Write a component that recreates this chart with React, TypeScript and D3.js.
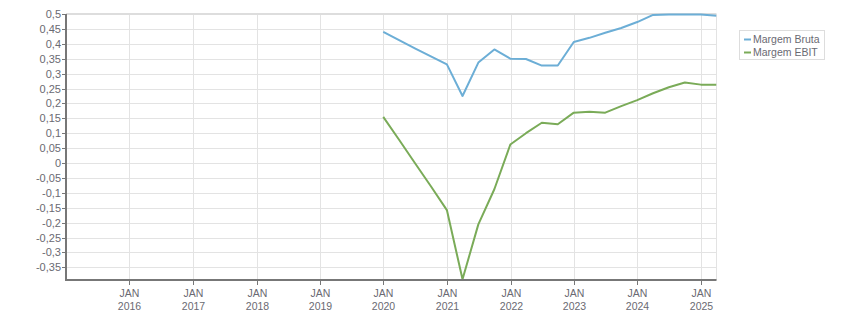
import React from "react";
import * as d3 from "d3";

const quarterDates: string[] = [
  "2019-12-31", "2020-03-31", "2020-06-30", "2020-09-30",
  "2020-12-31", "2021-03-31", "2021-06-30", "2021-09-30",
  "2021-12-31", "2022-03-31", "2022-06-30", "2022-09-30",
  "2022-12-31", "2023-03-31", "2023-06-30", "2023-09-30",
  "2023-12-31", "2024-03-31", "2024-06-30", "2024-09-30",
  "2024-12-31", "2025-03-31",
];

const margemBruta: number[] = [
  0.44, 0.412, 0.385, 0.358, 0.331, 0.225, 0.337, 0.381, 0.35, 0.349, 0.327,
  0.327, 0.406, 0.42, 0.437, 0.453, 0.473, 0.497, 0.498, 0.498, 0.498, 0.494,
];

const margemEbit: number[] = [
  0.155, 0.078, 0.0, -0.078, -0.158, -0.39, -0.206, -0.088, 0.062, 0.1, 0.135,
  0.13, 0.169, 0.172, 0.169, 0.191, 0.211, 0.234, 0.254, 0.27, 0.263, 0.263,
];

const seriesNames: string[] = ["Margem Bruta", "Margem EBIT"];
const seriesColors: string[] = ["#6caed6", "#7aab58"];

const yTicks: number[] = [
  0.5, 0.45, 0.4, 0.35, 0.3, 0.25, 0.2, 0.15, 0.1, 0.05, 0, -0.05, -0.1,
  -0.15, -0.2, -0.25, -0.3, -0.35,
];
const xTickYears: number[] = [2016, 2017, 2018, 2019, 2020, 2021, 2022, 2023, 2024, 2025];
const monthLabel = "JAN";

const W = 851;
const H = 313;
const left = 66;
const right = 716.5;
const top = 14;
const bottom = 280;

export default function App() {
  const parse = d3.utcParse("%Y-%m-%d");
  const dates = quarterDates.map((d) => parse(d) as Date);
  const x = d3
    .scaleUtc()
    .domain([new Date(Date.UTC(2015, 0, 1)), new Date(Date.UTC(2025, 2, 31))])
    .range([left, right]);
  const y = d3.scaleLinear().domain([-0.3926, 0.5]).range([bottom, top]);

  const fmt = (v: number) => {
    const s = d3.format("")(+v.toFixed(2));
    return s.replace(".", ",").replace("−", "-");
  };

  const line = d3
    .line<number>()
    .x((_, i) => x(dates[i]))
    .y((v) => y(v));

  const series = [margemBruta, margemEbit];
  const font = "'Liberation Sans', Arial, sans-serif";

  return (
    <svg
      width={W}
      height={H}
      style={{ position: "absolute", left: 0, top: 0, background: "#fff" }}
      fontFamily={font}
    >
      <defs>
        <clipPath id="plot">
          <rect x={left} y={top - 2} width={right - left} height={bottom - top + 2} />
        </clipPath>
      </defs>
      {yTicks.map((t) => (
        <line
          key={"h" + t}
          x1={left}
          x2={right}
          y1={Math.round(y(t)) + 0.5}
          y2={Math.round(y(t)) + 0.5}
          stroke="#e3e3e3"
          strokeWidth={1}
        />
      ))}
      {xTickYears.map((yr) => {
        const px = Math.round(x(new Date(Date.UTC(yr, 0, 1)))) + 0.5;
        return (
          <line key={"v" + yr} x1={px} x2={px} y1={top} y2={bottom} stroke="#e3e3e3" strokeWidth={1} />
        );
      })}
      <line x1={left} x2={right} y1={top} y2={top} stroke="#dddddd" strokeWidth={2} />
      <line x1={right} x2={right} y1={top} y2={bottom} stroke="#e3e3e3" strokeWidth={1} />

      <g clipPath="url(#plot)">
        {series.map((s, i) => (
          <path
            key={seriesNames[i]}
            d={line(s) || ""}
            fill="none"
            stroke={seriesColors[i]}
            strokeWidth={2}
            strokeLinejoin="round"
          />
        ))}
      </g>

      <line x1={left} x2={left} y1={top} y2={bottom + 1} stroke="#777" strokeWidth={2} />
      <line x1={left - 1} x2={right} y1={bottom} y2={bottom} stroke="#777" strokeWidth={2} />

      {yTicks.map((t) => {
        const py = Math.round(y(t)) + 0.5;
        return (
          <g key={"yl" + t}>
            <line x1={left - 4} x2={left} y1={py} y2={py} stroke="#777" strokeWidth={1} />
            <text
              x={left - 5}
              y={py}
              dy="0.35em"
              textAnchor="end"
              fontSize={11}
              fill="#6a6a72"
            >
              {fmt(t)}
            </text>
          </g>
        );
      })}

      {xTickYears.map((yr) => {
        const px = Math.round(x(new Date(Date.UTC(yr, 0, 1)))) + 0.5;
        return (
          <g key={"xl" + yr}>
            <line x1={px} x2={px} y1={bottom} y2={bottom + 5} stroke="#777" strokeWidth={1} />
            <text x={px} y={297} textAnchor="middle" fontSize={10.5} fill="#6a6a72">
              {monthLabel}
            </text>
            <text x={px} y={310} textAnchor="middle" fontSize={10.5} fill="#6a6a72">
              {yr}
            </text>
          </g>
        );
      })}

      <rect x={739.5} y={30.5} width={85} height={29} fill="#fff" stroke="#dddddd" strokeWidth={1} />
      {seriesNames.map((n, i) => (
        <g key={"lg" + n}>
          <line
            x1={744}
            x2={751}
            y1={39.5 + i * 13}
            y2={39.5 + i * 13}
            stroke={seriesColors[i]}
            strokeWidth={2}
          />
          <text x={753} y={39.5 + i * 13} dy="0.35em" fontSize={10.5} fill="#6a6a72">
            {n}
          </text>
        </g>
      ))}
    </svg>
  );
}
